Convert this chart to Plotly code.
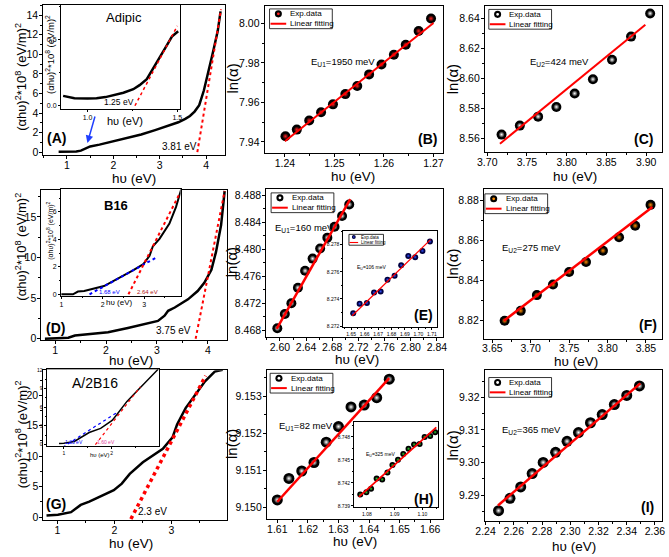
import plotly.graph_objects as go

W, H = 669, 557
FONT = "Liberation Sans, Arial, sans-serif"

# ---------------- data ----------------
# (A) Adipic : (alpha h nu)^2 vs h nu
A_hv = [0.82, 1.0, 1.2, 1.3, 1.38, 1.45, 1.5, 1.7, 2.0, 2.3, 2.6, 2.9, 3.2, 3.4, 3.55, 3.65, 3.75, 3.85, 3.95, 4.05, 4.15, 4.25, 4.31]
A_y = [0.05, 0.05, 0.07, 0.15, 0.35, 0.5, 0.58, 0.77, 1.1, 1.45, 1.8, 2.25, 2.7, 3.05, 3.4, 3.7, 4.15, 4.8, 6.3, 8.2, 10.3, 12.4, 14.4]
A_tan_hv = [3.81, 4.32]
A_tan_y = [0.0, 14.6]
A_in_hv = [0.864, 0.9, 0.927, 1.0, 1.05, 1.1, 1.145, 1.2, 1.255, 1.29, 1.33, 1.38, 1.41, 1.44, 1.47, 1.505]
A_in_y = [0.074, 0.062, 0.056, 0.054, 0.056, 0.065, 0.079, 0.098, 0.124, 0.155, 0.2, 0.31, 0.38, 0.45, 0.52, 0.56]
A_in_tan_hv = [1.264, 1.5]
A_in_tan_y = [0.0, 0.6]

# (B) Urbach fit, E_U1 = 1950 meV
B_hv = [1.2401, 1.2424, 1.2449, 1.2473, 1.2497, 1.2522, 1.2546, 1.2570, 1.2595, 1.2620, 1.2644, 1.2670, 1.2695]
B_ln = [7.9428, 7.9462, 7.9508, 7.9550, 7.9590, 7.9642, 7.9683, 7.9742, 7.9792, 7.9842, 7.9892, 7.9962, 8.0025]
B_fit_hv = [1.2400, 1.2700]
B_fit_ln = [7.9403, 8.0003]

# (C) E_U2 = 424 meV
C_hv = [3.718, 3.741, 3.764, 3.787, 3.810, 3.833, 3.857, 3.881, 3.905]
C_ln = [8.5625, 8.5685, 8.5745, 8.5810, 8.5900, 8.5995, 8.6125, 8.6280, 8.6435]
C_fit_hv = [3.716, 3.899]
C_fit_ln = [8.5564, 8.6360]

# (D) B16
D_hv = [0.8, 1.26, 1.39, 1.5, 1.65, 2.04, 2.43, 2.83, 3.02, 3.15, 3.22, 3.35, 3.61, 3.8, 3.93, 4.07, 4.16, 4.26, 4.33]
D_y = [0.0, 0.12, 0.4, 0.48, 0.53, 0.81, 1.34, 1.9, 2.2, 2.84, 3.45, 3.85, 4.86, 5.88, 6.9, 8.5, 10.7, 14.0, 18.2]
D_tan_hv = [3.76, 4.33]
D_tan_y = [0.0, 18.2]
D_in_hv = [1.0, 1.28, 1.40, 1.55, 2.03, 2.34, 2.74, 2.98, 3.13, 3.21, 3.37, 3.61, 3.77, 3.89]
D_in_y = [0.0, 0.0, 0.2, 0.25, 0.6, 1.1, 1.76, 2.2, 2.8, 3.5, 4.04, 5.15, 6.37, 7.6]
D_in_tan1_hv = [1.68, 3.33]
D_in_tan1_y = [0.0, 2.74]
D_in_tan2_hv = [2.62, 3.85]
D_in_tan2_y = [0.0, 7.3]

# (E) E_U1 = 160 meV, inset E_U = 106 meV
E_hv = [2.596, 2.6075, 2.6175, 2.6275, 2.6385, 2.650, 2.6615, 2.6725, 2.6835, 2.695, 2.706]
E_ln = [8.4683, 8.4704, 8.4720, 8.4743, 8.4768, 8.4786, 8.4801, 8.4817, 8.4833, 8.4849, 8.4866]
E_fit_hv = [2.595, 2.7075]
E_fit_ln = [8.4682, 8.4874]
E_in_hv = [1.6515, 1.6563, 1.6617, 1.6670, 1.6719, 1.6770, 1.6823, 1.6872, 1.6925, 1.6976, 1.7030, 1.7086]
E_in_ln = [8.27294, 8.27365, 8.27370, 8.27448, 8.27455, 8.27542, 8.27570, 8.27648, 8.27717, 8.27708, 8.27754, 8.27823]
E_in_fit_hv = [1.6507, 1.7090]
E_in_fit_ln = [8.27276, 8.27837]

# (F) E_U2 = 275 meV
F_hv = [3.666, 3.687, 3.708, 3.729, 3.750, 3.772, 3.794, 3.815, 3.836, 3.856]
F_ln = [8.8196, 8.8246, 8.8325, 8.8378, 8.8441, 8.8491, 8.8548, 8.8615, 8.8673, 8.8778]
F_fit_hv = [3.665, 3.8585]
F_fit_ln = [8.8196, 8.8767]

# (G) A/2B16
G_hv = [0.81, 1.01, 1.24, 1.41, 1.56, 1.81, 1.99, 2.13, 2.27, 2.5, 2.67, 2.85, 3.02, 3.1, 3.25, 3.42, 3.59, 3.76, 3.9]
G_y = [0.27, 0.38, 0.81, 2.0, 2.54, 3.62, 4.43, 5.5, 7.1, 9.0, 10.1, 11.2, 13.1, 15.2, 17.9, 20.1, 22.3, 23.9, 24.2]
G_tan_hv = [2.29, 3.6]
G_tan_y = [-0.3, 23.2]
G_in_hv = [0.9, 1.0, 1.22, 1.43, 1.53, 1.77, 2.01, 2.11, 2.32, 2.52, 2.73, 2.9, 2.97]
G_in_y = [0.2, 0.22, 0.5, 1.4, 1.95, 2.6, 3.9, 4.85, 6.95, 8.55, 10.15, 11.5, 12.1]
G_in_tan1_hv = [0.98, 2.12]
G_in_tan1_y = [-0.4, 5.2]
G_in_tan2_hv = [1.66, 2.6]
G_in_tan2_y = [0.0, 9.3]

# (H) E_U1 = 82 meV, inset E_U = 325 meV
H_hv = [1.6100, 1.6138, 1.6180, 1.6220, 1.6260, 1.6300, 1.6341, 1.6384, 1.6425, 1.6466]
H_ln = [9.15020, 9.15078, 9.15098, 9.15121, 9.15176, 9.15218, 9.15271, 9.15276, 9.15296, 9.15346]
H_fit_hv = [1.6100, 1.6466]
H_fit_ln = [9.15015, 9.15349]
H_in_hv = [1.0776, 1.0798, 1.0815, 1.0835, 1.0855, 1.0874, 1.0892, 1.0912, 1.0931, 1.0950, 1.0970, 1.0990, 1.1008, 1.1028, 1.1046]
H_in_ln = [8.74047, 8.74076, 8.74122, 8.74256, 8.74244, 8.74335, 8.74432, 8.74503, 8.74578, 8.74646, 8.74703, 8.74708, 8.74800, 8.74813, 8.74863]
H_in_fit_hv = [1.0771, 1.1050]
H_in_fit_ln = [8.74018, 8.74926]

# (I) E_U2 = 365 meV
I_hv = [2.2492, 2.2573, 2.2649, 2.2730, 2.2808, 2.2896, 2.2977, 2.3058, 2.3143, 2.3226, 2.3312, 2.3400, 2.3490]
I_ln = [9.2852, 9.2890, 9.2925, 9.2966, 9.3000, 9.3031, 9.3065, 9.3092, 9.3122, 9.3147, 9.3178, 9.3206, 9.3235]
I_fit_hv = [2.2488, 2.3496]
I_fit_ln = [9.2868, 9.3243]

# ---------------- figure ----------------
fig = go.Figure()


def P(xp, yp):
    return xp / W, 1 - yp / H


def an(n):
    return ("x", "y") if n == 1 else (f"x{n}", f"y{n}")


def setup(n, dx, dy, xr, yr, xdt, ydt, xfmt="", yfmt="", tfs=10.5, tl=3, minor=True, so=-3):
    xa, ya = an(n)
    common = dict(showline=True, linecolor="black", linewidth=1, mirror=True,
                  ticks="outside", ticklen=tl, tickwidth=1, tickcolor="black",
                  showgrid=False, zeroline=False,
                  tickfont=dict(family=FONT, size=tfs, color="black"))
    xd = dict(domain=[dx[0] / W, dx[1] / W], range=xr, anchor=ya, dtick=xdt, tick0=0,
              tickformat=xfmt, ticklabelstandoff=so, **common)
    yd = dict(domain=[1 - dy[1] / H, 1 - dy[0] / H], range=yr, anchor=xa, dtick=ydt, tick0=0,
              tickformat=yfmt, ticklabelstandoff=max(so, -1), **common)
    if minor:
        xd["minor"] = dict(ticks="outside", ticklen=max(1, tl - 1), dtick=xdt / 2, tickcolor="black", showgrid=False)
        yd["minor"] = dict(ticks="outside", ticklen=max(1, tl - 1), dtick=ydt / 2, tickcolor="black", showgrid=False)
    fig.layout["xaxis" if n == 1 else f"xaxis{n}"] = xd
    fig.layout["yaxis" if n == 1 else f"yaxis{n}"] = yd


def line(n, x, y, color="black", width=2.2, dash="solid"):
    xa, ya = an(n)
    fig.add_trace(go.Scatter(x=x, y=y, mode="lines", xaxis=xa, yaxis=ya,
                             line=dict(color=color, width=width, dash=dash),
                             showlegend=False, hoverinfo="skip"))


def spheres(n, x, y, edge, center, size):
    """Shaded balls: a dark ball plus a smaller radial highlight on top."""
    xa, ya = an(n)
    fig.add_trace(go.Scatter(x=x, y=y, mode="markers", xaxis=xa, yaxis=ya,
                             marker=dict(size=size, color=edge, line=dict(width=0)),
                             showlegend=False, hoverinfo="skip"))
    fig.add_trace(go.Scatter(x=x, y=y, mode="markers", xaxis=xa, yaxis=ya,
                             marker=dict(size=size * 0.62, color=edge, line=dict(width=0),
                                         gradient=dict(type="radial", color=center)),
                             showlegend=False, hoverinfo="skip"))


def text(t, xp, yp, size=11, color="black", bold=False, xanchor="center", yanchor="middle", angle=0):
    x, y = P(xp, yp)
    if bold:
        t = f"<b>{t}</b>"
    fig.add_annotation(text=t, x=x, y=y, xref="paper", yref="paper", showarrow=False,
                       xanchor=xanchor, yanchor=yanchor, textangle=angle,
                       font=dict(family=FONT, size=size, color=color))


def legend_box(x0, y0, edge, center, s=1.0, fs=8):
    w, h = 64 * s, 20 * s
    a, b = P(x0, y0)
    c, d = P(x0 + w, y0 + h)
    fig.add_shape(type="rect", xref="paper", yref="paper", x0=a, y0=d, x1=c, y1=b,
                  line=dict(color="black", width=0.8), fillcolor="white", layer="above")
    cx, cy, r = x0 + 9 * s, y0 + 5 * s, 3.6 * s
    for rr, col in ((r, edge), (r * 0.4, center)):
        a, b = P(cx - rr, cy - rr)
        c, d = P(cx + rr, cy + rr)
        fig.add_shape(type="circle", xref="paper", yref="paper", x0=a, y0=d, x1=c, y1=b,
                      line=dict(width=0), fillcolor=col, layer="above")
    a, b = P(x0 + 1 * s, y0 + 15 * s)
    c, _ = P(x0 + 17 * s, y0 + 15 * s)
    fig.add_shape(type="line", xref="paper", yref="paper", x0=a, y0=b, x1=c, y1=b,
                  line=dict(color="red", width=2 * s), layer="above")
    text("Exp.data", x0 + 19 * s, y0 + 5 * s, size=fs, xanchor="left")
    text("Linear fitting", x0 + 19 * s, y0 + 15 * s, size=fs, xanchor="left")


YT = "(αhυ)<sup>2</sup>*10<sup>8</sup> (eV/m)<sup>2</sup>"
XT = "hυ (eV)"

# ---- axes ----
setup(1, (35, 220), (2, 154), [0.49, 4.4], [-0.3, 15.05], 1, 2)
setup(2, (260.7, 443), (3, 152), [1.2359, 1.272], [7.9343, 8.0089], 0.01, 0.02, ".2f", ".2f")
setup(3, (485.3, 666), (3, 151), [3.697, 3.92], [8.5508, 8.6485], 0.05, 0.02, ".2f", ".2f")
setup(4, (33, 222), (189, 341.7), [0.73, 4.37], [-0.2, 18.37], 1, 5)
setup(5, (262.3, 443), (188.3, 338.3), [2.579, 2.85], [8.467, 8.4889], 0.04, 0.004, ".2f", ".3f")
setup(6, (484.3, 666), (188.3, 340), [3.639, 3.871], [8.8106, 8.8858], 0.05, 0.02, ".2f", ".2f")
setup(7, (35, 222), (372, 524), [0.754, 3.97], [-0.54, 24.1], 1, 5)
setup(8, (263, 443), (372, 522.7), [1.6066, 1.6643], [9.14968, 9.1537], 0.01, 0.001, ".2f", ".3f")
setup(9, (485, 666), (372, 525), [2.2393, 2.365], [9.2819, 9.3283], 0.02, 0.01, ".2f", ".2f")
# insets
setup(10, (53, 174), (2, 107), [0.852, 1.513], [-0.022, 0.758], 0.5, 0.5, ".1f", ".1f", tfs=7, tl=2, so=0)
setup(11, (53, 175), (188, 296.7), [0.99, 3.88], [-0.12, 7.7], 1, 2, tfs=7, tl=2, so=0)
setup(12, (341, 436.3), (231, 328.5), [1.6442, 1.7137], [8.2719, 8.2790], 0.01, 0.002, ".2f", ".3f", tfs=5, tl=2, so=0)
setup(13, (38.3, 153), (371, 448.5), [0.64, 2.99], [-0.2, 12.1], 1, 3, tfs=5, tl=2, so=0)
setup(14, (352, 438), (424, 510), [1.0754, 1.1058], [8.7389, 8.750], 0.01, 0.003, ".2f", ".3f", tfs=5, tl=2, so=0)

# ---- traces ----
line(1, A_hv, A_y, width=2.5)
line(1, A_tan_hv, A_tan_y, color="red", width=2, dash="dot")
line(10, A_in_hv, A_in_y, width=2.5)
line(10, A_in_tan_hv, A_in_tan_y, color="red", width=1.5, dash="dot")

spheres(2, B_hv, B_ln, "black", "#ff2020", 10)
line(2, B_fit_hv, B_fit_ln, color="red", width=2)

spheres(3, C_hv, C_ln, "black", "white", 10)
line(3, C_fit_hv, C_fit_ln, color="red", width=2)

line(4, D_hv, D_y, width=2.5)
line(4, D_tan_hv, D_tan_y, color="red", width=2, dash="dot")
line(11, D_in_hv, D_in_y, width=2)
line(11, D_in_tan1_hv, D_in_tan1_y, color="blue", width=2, dash="dot")
line(11, D_in_tan2_hv, D_in_tan2_y, color="red", width=2, dash="dot")

spheres(5, E_hv, E_ln, "black", "white", 10)
line(5, E_fit_hv, E_fit_ln, color="red", width=2.5)
spheres(12, E_in_hv, E_in_ln, "#000040", "#3050ff", 6)
line(12, E_in_fit_hv, E_in_fit_ln, color="red", width=1.2)

spheres(6, F_hv, F_ln, "black", "#ff8c00", 10)
line(6, F_fit_hv, F_fit_ln, color="red", width=2.5)

line(7, G_hv, G_y, width=2.5)
line(7, G_tan_hv, G_tan_y, color="red", width=3.5, dash="dot")
line(13, G_in_hv, G_in_y, width=1.5)
line(13, G_in_tan1_hv, G_in_tan1_y, color="blue", width=1.2, dash="dot")
line(13, G_in_tan2_hv, G_in_tan2_y, color="red", width=1.2, dash="dot")

spheres(8, H_hv, H_ln, "black", "white", 11)
line(8, H_fit_hv, H_fit_ln, color="red", width=2.5)
spheres(14, H_in_hv, H_in_ln, "black", "#30d030", 6)
line(14, H_in_fit_hv, H_in_fit_ln, color="red", width=1.8)

spheres(9, I_hv, I_ln, "black", "white", 11)
line(9, I_fit_hv, I_fit_ln, color="red", width=2.5)

# ---- arrow in (A) ----
fig.add_annotation(x=1.44, y=0.93, xref="x", yref="y", ax=8, ay=-28, showarrow=True,
                   arrowhead=2, arrowsize=1, arrowwidth=1.5, arrowcolor="#1f3fff", text="")

# ---- axis titles ----
for xc, yc in [(127, 178), (351, 176), (577, 176), (124, 362), (355, 361), (578, 363), (124, 547.5), (353, 545.5), (576, 550)]:
    text(XT, xc, yc, size=13.5)
for xc, yc in [(12, 75), (12, 247), (12, 437)]:
    text(YT, xc, yc, size=13, angle=-90)
for xc, yc in [(227, 77), (452, 77), (227, 263), (452, 264), (227, 447), (452, 448)]:
    text("ln(α)", xc, yc, size=15, angle=-90)
# inset titles
text(YT, 42.5, 52, size=9.5, angle=-90)
text(XT, 118, 120, size=11)
text(YT, 41.5, 231, size=7, angle=-90)
text(XT, 112.5, 303, size=8)
text(XT, 93, 457.5, size=6)

# ---- panel letters ----
for t, xc, yc in [("(A)", 48, 137), ("(B)", 427, 137.5), ("(C)", 647, 137.5), ("(D)", 47.5, 329),
                  ("(E)", 423, 316), ("(F)", 651.5, 326), ("(G)", 47.5, 507), ("(H)", 423, 502), ("(I)", 651, 510)]:
    text(t, xc, yc, size=14, bold=True)

# ---- sample names / energies ----
text("Adipic", 117.5, 15, size=13)
text("B16", 109, 205.5, size=13, bold=True)
text("A/2B16", 87.5, 385, size=14)
text("3.81 eV", 174, 145, size=10)
text("1.25 eV", 112.5, 100, size=8.5)
text("3.75 eV", 168, 331.5, size=10)
text("1.68 eV", 102, 292.3, size=6, color="blue")
text("2.64 eV", 141, 292.3, size=6, color="#b01818")
text("2.3 eV", 146.5, 515, size=10)
text("1.33 eV", 66, 445, size=5, color="blue")
text("1.60 eV", 98.5, 445, size=5, color="#e0409a")

text("E<sub>U1</sub>=1950 meV", 306, 60, size=9.5, xanchor="left")
text("E<sub>U2</sub>=424 meV", 529, 60, size=9.5, xanchor="left")
text("E<sub>U1</sub>=160 meV", 269.5, 228, size=9.5, xanchor="left")
text("E<sub>U2</sub>=275 meV", 501, 248, size=9.5, xanchor="left")
text("E<sub>U1</sub>=82 meV", 273, 428, size=9.5, xanchor="left")
text("E<sub>U2</sub>=365 meV", 501, 432.5, size=9.5, xanchor="left")
text("E<sub>U</sub>=106 meV", 353, 268, size=5, xanchor="left")
text("E<sub>U</sub>=325 meV", 362, 457.5, size=5, xanchor="left")

# ---- legends ----
legend_box(265.7, 6, "black", "#ff2020")
legend_box(489.3, 6.5, "black", "white")
legend_box(267.3, 192.3, "black", "white")
legend_box(485.3, 193.3, "black", "#ff8c00")
legend_box(266.3, 375, "black", "white")
legend_box(489.3, 379.3, "black", "white")
legend_box(346.7, 234.3, "#000040", "#3050ff", s=0.55, fs=4.5)

fig.update_layout(width=W, height=H, margin=dict(l=0, r=0, t=0, b=0),
                  plot_bgcolor="white", paper_bgcolor="white", showlegend=False,
                  font=dict(family=FONT, color="black"))

fig.write_html("out.html", config={"displayModeBar": False},
               post_script="document.body.style.margin='0';document.body.style.overflow='hidden';")
